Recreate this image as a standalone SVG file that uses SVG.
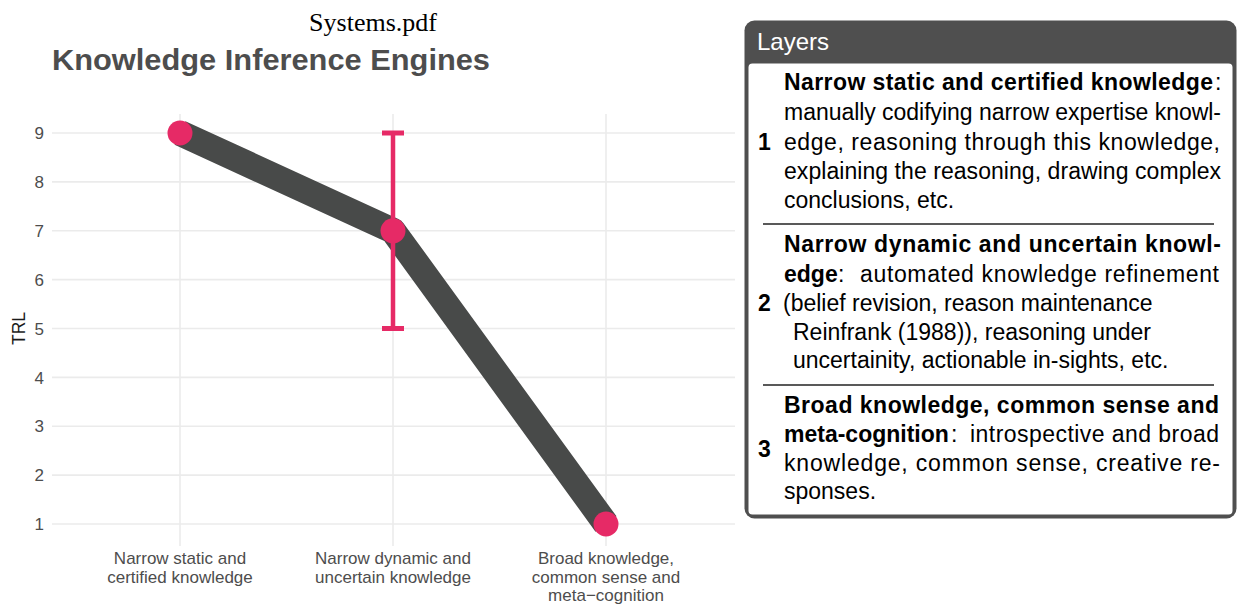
<svg xmlns="http://www.w3.org/2000/svg" width="1238" height="605" viewBox="0 0 1238 605">
<style>
.grid{stroke:#ebebeb;stroke-width:1.6;fill:none}
.ax{font-family:"Liberation Sans",Arial,sans-serif;font-size:17px;fill:#4d4d4d}
.xl{font-family:"Liberation Sans",Arial,sans-serif;font-size:17px;fill:#4d4d4d;text-anchor:middle}
.pt{fill:#e62a66}
.err{stroke:#e62a66;fill:none}
.bt{font-family:"Liberation Sans",Arial,sans-serif;font-size:23px;fill:#000}
.b{font-weight:bold}
.sep{stroke:#222;stroke-width:1.3}
</style>
<rect width="1238" height="605" fill="#fff"/>
<text x="373" y="31" font-family="'Liberation Serif','Times New Roman',serif" font-size="26" text-anchor="middle" fill="#000">Systems.pdf</text>
<text x="52" y="70" font-family="'Liberation Sans',Arial,sans-serif" font-size="30" font-weight="bold" fill="#4d4d4d" textLength="438" lengthAdjust="spacingAndGlyphs">Knowledge Inference Engines</text>
<g id="grid">
<line class="grid" x1="52" y1="133" x2="735" y2="133"/>
<line class="grid" x1="52" y1="181.9" x2="735" y2="181.9"/>
<line class="grid" x1="52" y1="230.8" x2="735" y2="230.8"/>
<line class="grid" x1="52" y1="279.6" x2="735" y2="279.6"/>
<line class="grid" x1="52" y1="328.5" x2="735" y2="328.5"/>
<line class="grid" x1="52" y1="377.4" x2="735" y2="377.4"/>
<line class="grid" x1="52" y1="426.3" x2="735" y2="426.3"/>
<line class="grid" x1="52" y1="475.1" x2="735" y2="475.1"/>
<line class="grid" x1="52" y1="524" x2="735" y2="524"/>
<line class="grid" x1="180" y1="114" x2="180" y2="546"/>
<line class="grid" x1="393" y1="114" x2="393" y2="546"/>
<line class="grid" x1="606" y1="114" x2="606" y2="546"/>
</g>
<g id="yaxis" class="ax" text-anchor="end">
<text x="44" y="139">9</text>
<text x="44" y="188">8</text>
<text x="44" y="237">7</text>
<text x="44" y="286">6</text>
<text x="44" y="334.5">5</text>
<text x="44" y="383.5">4</text>
<text x="44" y="432">3</text>
<text x="44" y="481">2</text>
<text x="44" y="530">1</text>
</g>
<text transform="translate(25,328.5) rotate(-90)" text-anchor="middle" font-family="'Liberation Sans',Arial,sans-serif" font-size="17.5" fill="#1a1a1a">TRL</text>
<g id="xaxis">
<text class="xl" x="180" y="564">Narrow static and</text>
<text class="xl" x="180" y="583">certified knowledge</text>
<text class="xl" x="393" y="564">Narrow dynamic and</text>
<text class="xl" x="393" y="583">uncertain knowledge</text>
<text class="xl" x="606" y="564">Broad knowledge,</text>
<text class="xl" x="606" y="583">common sense and</text>
<text class="xl" x="606" y="601">meta−cognition</text>
</g>
<g id="connectors">
<polyline points="180,133 393,230.8 606,524" fill="none" stroke="#484a49" stroke-width="26" stroke-linejoin="round" stroke-linecap="butt"/>
<line class="err" x1="393" y1="133" x2="393" y2="328.5" stroke-width="4.5"/>
<line class="err" x1="382" y1="133" x2="404" y2="133" stroke-width="5"/>
<line class="err" x1="382" y1="328.5" x2="404" y2="328.5" stroke-width="5"/>
</g>
<g id="node-1"><circle class="pt" cx="180" cy="133" r="12.5"/></g>
<g id="node-2"><circle class="pt" cx="393" cy="230.8" r="12.5"/></g>
<g id="node-3"><circle class="pt" cx="606" cy="524" r="12.5"/></g>
<g id="layers-panel">
<rect x="744.5" y="20.5" width="492" height="498" rx="10" fill="#4f4f4f"/>
<rect x="748.5" y="63.5" width="484" height="451" rx="4" fill="#fff"/>
<text x="757" y="50" font-family="'Liberation Sans',Arial,sans-serif" font-size="24" fill="#fff">Layers</text>
<g class="bt">
<text class="b" x="784" y="90" textLength="429" lengthAdjust="spacing">Narrow static and certified knowledge</text>
<text x="1215" y="90">:</text>
<text x="784" y="120" textLength="437" lengthAdjust="spacing">manually codifying narrow expertise knowl-</text>
<text x="784" y="150" textLength="436" lengthAdjust="spacing">edge, reasoning through this knowledge,</text>
<text x="784" y="179" textLength="437" lengthAdjust="spacing">explaining the reasoning, drawing complex</text>
<text x="784" y="208">conclusions, etc.</text>
<text class="b" x="758" y="150">1</text>
<line class="sep" x1="763" y1="224" x2="1214" y2="224"/>
<text class="b" x="784" y="252" textLength="437" lengthAdjust="spacing">Narrow dynamic and uncertain knowl-</text>
<text class="b" x="784" y="282">edge</text>
<text x="838" y="282">:</text>
<text x="860" y="282" textLength="359" lengthAdjust="spacing">automated knowledge refinement</text>
<text x="783" y="311">(belief revision, reason maintenance</text>
<text x="793" y="340">Reinfrank (1988)), reasoning under</text>
<text x="793" y="368">uncertainity, actionable in-sights, etc.</text>
<text class="b" x="758" y="311">2</text>
<line class="sep" x1="763" y1="385" x2="1214" y2="385"/>
<text class="b" x="784" y="413" textLength="435" lengthAdjust="spacing">Broad knowledge, common sense and</text>
<text class="b" x="784" y="442">meta-cognition</text>
<text x="951" y="442">:</text>
<text x="970" y="442" textLength="249" lengthAdjust="spacing">introspective and broad</text>
<text x="784" y="471" textLength="436" lengthAdjust="spacing">knowledge, common sense, creative re-</text>
<text x="784" y="499">sponses.</text>
<text class="b" x="758" y="457">3</text>
</g>
</g>
</svg>
